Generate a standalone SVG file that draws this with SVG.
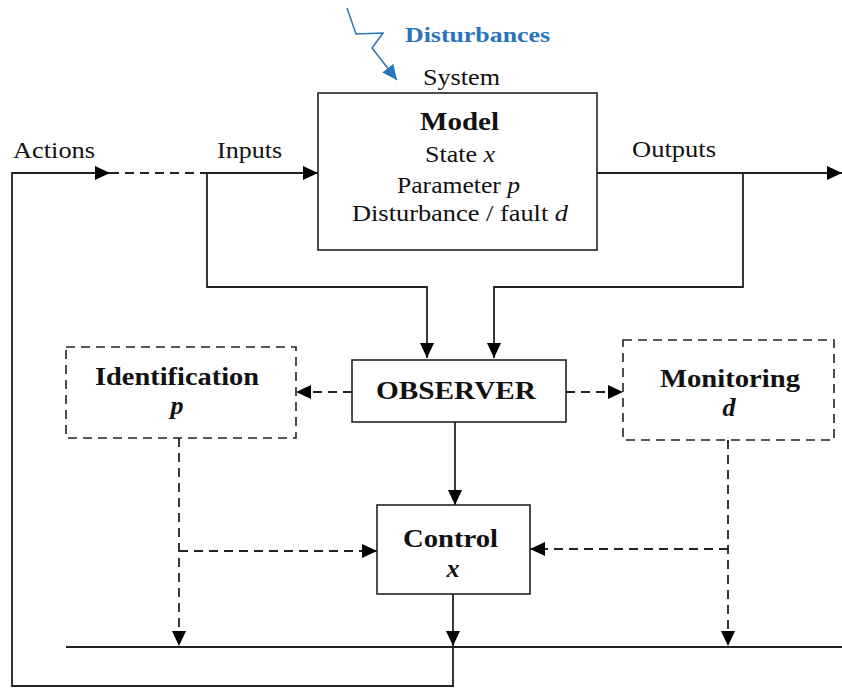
<svg xmlns="http://www.w3.org/2000/svg" width="842" height="688" viewBox="0 0 842 688">
  <style>
    .txt { font-family: "Liberation Serif", "Times New Roman", serif; fill: #111; }
    .reg { font-size: 23.5px; }
    .bold { font-size: 26px; font-weight: bold; }
    .box { fill: #fff; stroke: #222; stroke-width: 1.6; }
    .dbox { fill: #fff; stroke: #222; stroke-width: 1.6; stroke-dasharray: 9 6; }
    .line { fill: none; stroke: #222; stroke-width: 1.8; }
    .dash { fill: none; stroke: #222; stroke-width: 1.8; stroke-dasharray: 9 6; }
    .arrow { marker-end: url(#head); }
  </style>
  <defs>
    <marker id="head" markerUnits="userSpaceOnUse" markerWidth="16" markerHeight="14" refX="15" refY="7" orient="auto">
      <path d="M0,0 L15,7 L0,14 z" fill="#000"/>
    </marker>
    <marker id="blueHead" markerUnits="userSpaceOnUse" markerWidth="16" markerHeight="14" refX="15" refY="7" orient="auto">
      <path d="M0,0 L15,7 L0,14 z" fill="#2a74b8"/>
    </marker>
  </defs>

  <rect width="842" height="688" fill="#fff"/>

  <!-- Disturbance lightning arrow and label -->
  <g id="disturbances">
    <path d="M347,8 L356,34 L383,33 L372,48 L397,80" fill="none" stroke="#2a74b8" stroke-width="1.5" marker-end="url(#blueHead)"/>
    <text class="txt bold" x="405" y="42" font-size="22" textLength="145" lengthAdjust="spacingAndGlyphs" style="font-size:22px;fill:#2a74b8">Disturbances</text>
  </g>

  <!-- Connectors -->
  <g id="connectors">
    <!-- feedback loop from control output back to actions -->
    <path class="line arrow" d="M453,647 V686 H12 V173 H110"/>
    <path class="dash" d="M110,173 H205"/>
    <path class="line arrow" d="M205,173 H318"/>
    <!-- inputs to observer -->
    <path class="line arrow" d="M207,173 V287 H427 V358"/>
    <!-- outputs -->
    <path class="line arrow" d="M597,173 H842"/>
    <path class="line arrow" d="M743,173 V287 H494 V358"/>
    <!-- observer to identification / monitoring -->
    <path class="dash arrow" d="M352,392 H296"/>
    <path class="dash arrow" d="M566,392 H623"/>
    <!-- observer to control -->
    <path class="line arrow" d="M455,422 V505"/>
    <!-- identification outputs -->
    <path class="dash arrow" d="M179,438 V646"/>
    <path class="dash arrow" d="M179,551 H377"/>
    <!-- monitoring outputs -->
    <path class="dash arrow" d="M728,440 V646"/>
    <path class="dash arrow" d="M728,549 H530"/>
    <!-- control output -->
    <path class="line arrow" d="M453,594 V646"/>
    <!-- bottom bus -->
    <path class="line" d="M66,647 H842" stroke-width="2.2"/>
  </g>

  <!-- Signal labels -->
  <g id="labels">
    <text class="txt reg" x="13" y="158" textLength="82" lengthAdjust="spacingAndGlyphs">Actions</text>
    <text class="txt reg" x="217" y="158" textLength="65" lengthAdjust="spacingAndGlyphs">Inputs</text>
    <text class="txt reg" x="632" y="157" textLength="84" lengthAdjust="spacingAndGlyphs">Outputs</text>
  </g>

  <!-- System model -->
  <g id="system">
    <text class="txt reg" x="423" y="85" textLength="77" lengthAdjust="spacingAndGlyphs">System</text>
    <rect class="box" x="318" y="93" width="279" height="157"/>
    <text class="txt bold" x="420" y="130" textLength="79" lengthAdjust="spacingAndGlyphs">Model</text>
    <text class="txt reg" x="425" y="162" textLength="70" lengthAdjust="spacingAndGlyphs">State <tspan font-style="italic">x</tspan></text>
    <text class="txt reg" x="397" y="193" textLength="123" lengthAdjust="spacingAndGlyphs">Parameter <tspan font-style="italic">p</tspan></text>
    <text class="txt reg" x="352" y="221" textLength="216" lengthAdjust="spacingAndGlyphs">Disturbance / fault <tspan font-style="italic">d</tspan></text>
  </g>

  <!-- Observer -->
  <g id="observer">
    <rect class="box" x="352" y="360" width="214" height="62"/>
    <text class="txt bold" x="376" y="399" textLength="160" lengthAdjust="spacingAndGlyphs">OBSERVER</text>
  </g>

  <!-- Identification -->
  <g id="identification">
    <rect class="dbox" x="66" y="347" width="230" height="91"/>
    <text class="txt bold" x="95" y="385" textLength="164" lengthAdjust="spacingAndGlyphs">Identification</text>
    <text class="txt bold" x="177" y="414" text-anchor="middle" font-style="italic">p</text>
  </g>

  <!-- Monitoring -->
  <g id="monitoring">
    <rect class="dbox" x="623" y="340" width="211" height="100"/>
    <text class="txt bold" x="660" y="387" textLength="140" lengthAdjust="spacingAndGlyphs">Monitoring</text>
    <text class="txt bold" x="729" y="416" text-anchor="middle" font-style="italic">d</text>
  </g>

  <!-- Control -->
  <g id="control">
    <rect class="box" x="377" y="505" width="153" height="89"/>
    <text class="txt bold" x="403" y="547" textLength="95" lengthAdjust="spacingAndGlyphs">Control</text>
    <text class="txt bold" x="453" y="577" text-anchor="middle" font-style="italic">x</text>
  </g>
</svg>
